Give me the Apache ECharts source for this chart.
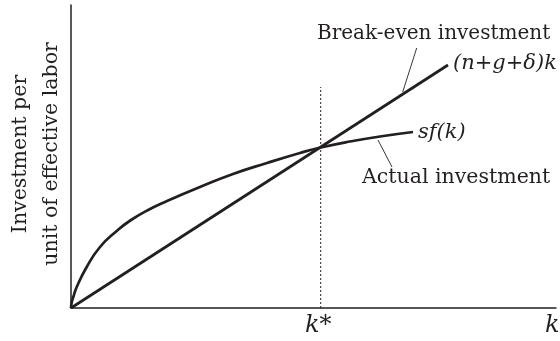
<!DOCTYPE html>
<html>
<head>
<meta charset="utf-8">
<script src="https://cdn.jsdelivr.net/npm/echarts@6/dist/echarts.min.js"></script>
<style>
html,body{margin:0;padding:0;background:#fff;}
#c{width:560px;height:341px;}
</style>
</head>
<body>
<div id="c"></div>
<script>
// Values (k along x, investment along y, arbitrary units)
var breakEven = [[0, 0], [377, 243]];
var actual = [[0,0],[0.8,6],[2.3,11],[5.7,21],[15.7,41],[29,61],[45.7,77],[60,88],[79,99],[96,107],[129,121],[162,134],[196,145],[229,155],[249.7,160.5],[279,166.5],[309,171.5],[342,176]];
var kStar = 249.7;
var kStarTop = 221;
var leaderBreak = [[345.7, 260], [331.7, 216]];
var leaderActual = [[307, 168], [321, 141]];
var xMax = 485, yMax = 303;
var yTitle = 'Investment per\nunit of effective labor';
var labels = {
  breakEven: 'Break-even investment',
  breakEvenEq: '(n+g+δ)k',
  actual: 'Actual investment',
  actualEq: 'sf(k)',
  kStar: 'k*',
  k: 'k'
};

var ink = '#231f20';
var serif = '"DejaVu Serif", "Liberation Serif", serif';
var chart = echarts.init(document.getElementById('c'), null, {renderer: 'canvas'});

function txt(text, x, y, size, italic, align) {
  return {
    type: 'text',
    silent: true,
    style: {
      text: text, x: x, y: y,
      font: (italic ? 'italic ' : '') + size + 'px ' + serif,
      fill: ink,
      align: align || 'left', verticalAlign: 'middle',
      textAlign: align || 'left', textVerticalAlign: 'middle'
    }
  };
}

chart.setOption({
  animation: false,
  backgroundColor: '#fff',
  grid: {left: 71, right: 4, top: 5, bottom: 33, containLabel: false, outerBoundsMode: 'none'},
  xAxis: {
    type: 'value', min: 0, max: xMax,
    axisLine: {show: true, onZero: false, lineStyle: {color: ink, width: 1.5}},
    axisTick: {show: false}, axisLabel: {show: false}, splitLine: {show: false}
  },
  yAxis: {
    type: 'value', min: 0, max: yMax,
    axisLine: {show: true, onZero: false, lineStyle: {color: ink, width: 1.5}},
    axisTick: {show: false}, axisLabel: {show: false}, splitLine: {show: false}
  },
  series: [
    {type: 'line', data: breakEven, symbol: 'none', lineStyle: {color: ink, width: 2.7}},
    {type: 'line', data: actual, symbol: 'none', smooth: 0.5, lineStyle: {color: ink, width: 2.7}},
    {type: 'line', data: [[kStar, 0], [kStar, kStarTop]], symbol: 'none', lineStyle: {color: ink, width: 1, type: [2, 2]}},
    {type: 'line', data: leaderBreak, symbol: 'none', lineStyle: {color: ink, width: 0.9}},
    {type: 'line', data: leaderActual, symbol: 'none', lineStyle: {color: ink, width: 0.9}}
  ],
  graphic: [
    {
      type: 'text', silent: true, x: 36, y: 154, rotation: Math.PI / 2,
      style: {
        text: yTitle, x: 0, y: 0, font: '20.5px ' + serif, fill: ink, lineHeight: 31,
        align: 'center', verticalAlign: 'middle', textAlign: 'center', textVerticalAlign: 'middle'
      }
    },
    txt(labels.breakEven, 317, 34, 20, false),
    txt(labels.breakEvenEq, 453, 64, 21, true),
    txt(labels.actualEq, 418, 133, 21, true),
    txt(labels.actual, 362, 178, 20.5, false),
    txt(labels.kStar, 305, 326, 24, true),
    txt(labels.k, 545, 326, 24, true)
  ]
});
</script>
</body>
</html>
